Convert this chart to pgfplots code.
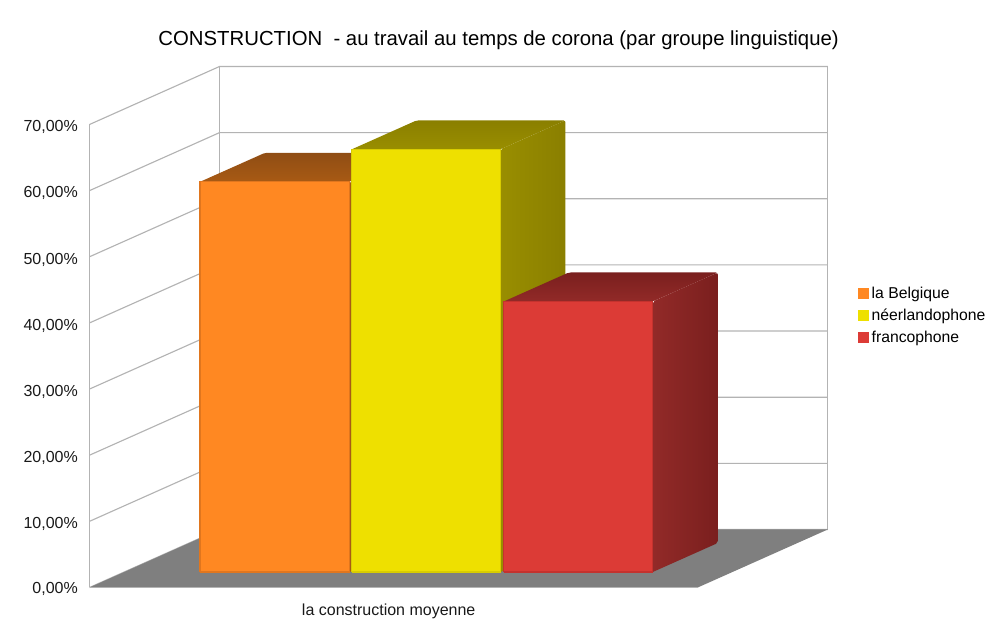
\documentclass[border=0pt]{standalone}
\usepackage{pgfplots}
\pgfplotsset{compat=1.18}
\usepackage{fontspec}
\setmainfont{Liberation Sans}
\definecolor{orA}{HTML}{FF8822}
\definecolor{orE}{HTML}{E0761E}
\definecolor{orT}{HTML}{A85A14}
\definecolor{orB}{HTML}{8F4D14}
\definecolor{yeA}{HTML}{EEE000}
\definecolor{yeE}{HTML}{D8CC00}
\definecolor{yeT}{HTML}{998E00}
\definecolor{yeB}{HTML}{8A7F00}
\definecolor{reA}{HTML}{DC3B36}
\definecolor{reE}{HTML}{C4322E}
\definecolor{reT}{HTML}{922A28}
\definecolor{reB}{HTML}{7A1F1E}
\definecolor{wall}{HTML}{B3B3B3}
\definecolor{floorc}{HTML}{7F7F7F}
% #1,#2 x range  #3 value  #4 front #5 edge #6 light #7 dark
\newcommand{\barbox}[7]{%
  \addplot3[forget plot,draw=none,bottom color=#6,top color=#7,rounded corners=1.5pt] coordinates {(#1,0.267,#3) (#2,0.267,#3) (#2,0.767,#3) (#1,0.767,#3) (#1,0.267,#3)};
  \addplot3[forget plot,draw=none,left color=#6,right color=#7,rounded corners=1.5pt] coordinates {(#2,0.267,0) (#2,0.767,0) (#2,0.767,#3) (#2,0.267,#3) (#2,0.267,0)};
  \addplot3[forget plot,draw=#5,line width=1pt,fill=#4] coordinates {(#1,0.267,0) (#2,0.267,0) (#2,0.267,#3) (#1,0.267,#3) (#1,0.267,0)};
}
\begin{document}
\begin{tikzpicture}[x=0.75pt,y=0.75pt]
\path[use as bounding box] (0,0) rectangle (1000,630);
\begin{axis}[
  at={(67.125pt,31.875pt)},anchor=origin,
  x={(456.2pt,0pt)},y={(97.5pt,43.5pt)},z={(0pt,4.9607pt)},
  xmin=0,xmax=1,ymin=0,ymax=1,zmin=0,zmax=70,
  clip=false,no markers,
  axis line style={draw=none},
  major tick length=0pt,
  tick style={draw=none},
  xtick={0.4926},xticklabels={la construction moyenne},
  ytick=\empty,
  ztick={0,10,20,30,40,50,60,70},
  zticklabels={{0,00\%},{10,00\%},{20,00\%},{30,00\%},{40,00\%},{50,00\%},{60,00\%},{70,00\%}},
  ticklabel style={font=\fontsize{12}{14}\selectfont,text=black!90},
  x tick label style={xshift=5.6pt,yshift=-8.5pt},
  z tick label style={xshift=-5.25pt,yshift=3pt},
  title={CONSTRUCTION~ - au travail au temps de corona (par groupe linguistique)},
  title style={font=\fontsize{15.25}{18}\selectfont,xshift=30pt,yshift=3pt},
  legend cell align=left,
  legend style={draw=none,fill=none,font=\fontsize{11.8}{14}\selectfont,at={(1,0.5)},anchor=west,xshift=19.5pt,yshift=8.25pt,row sep=2.3pt},
  legend image code/.code={\fill[#1] (0pt,-3.5pt) rectangle (8.25pt,4.5pt);},
]
% walls and grid
\pgfplotsinvokeforeach{0,10,20,30,40,50,60,70}{
  \addplot3[forget plot,wall,line width=0.85pt] coordinates {(0,0,#1) (0,1,#1) (1,1,#1)};
}
\addplot3[forget plot,wall,line width=0.85pt] coordinates {(0,0,0) (0,0,70)};
\addplot3[forget plot,wall,line width=0.85pt] coordinates {(0,1,0) (0,1,70)};
\addplot3[forget plot,wall,line width=0.85pt] coordinates {(1,1,0) (1,1,70)};
% floor
\addplot3[forget plot,fill=floorc,draw=none] coordinates {(0,0,0) (1,0,0) (1,1,0) (0,1,0) (0,0,0)};
\addplot3[forget plot,wall,line width=0.7pt] coordinates {(0,0,0) (1,0,0)};
% bars
\barbox{0.1248}{0.3705}{59.0}{orA}{orE}{orT}{orB}
\barbox{0.3740}{0.6185}{63.9}{yeA}{yeE}{yeT}{yeB}
\barbox{0.6240}{0.8690}{40.9}{reA}{reE}{reT}{reB}
\addlegendimage{fill=orA,draw=none}
\addlegendentry{la Belgique}
\addlegendimage{fill=yeA,draw=none}
\addlegendentry{néerlandophone}
\addlegendimage{fill=reA,draw=none}
\addlegendentry{francophone}
\end{axis}
\end{tikzpicture}
\end{document}
